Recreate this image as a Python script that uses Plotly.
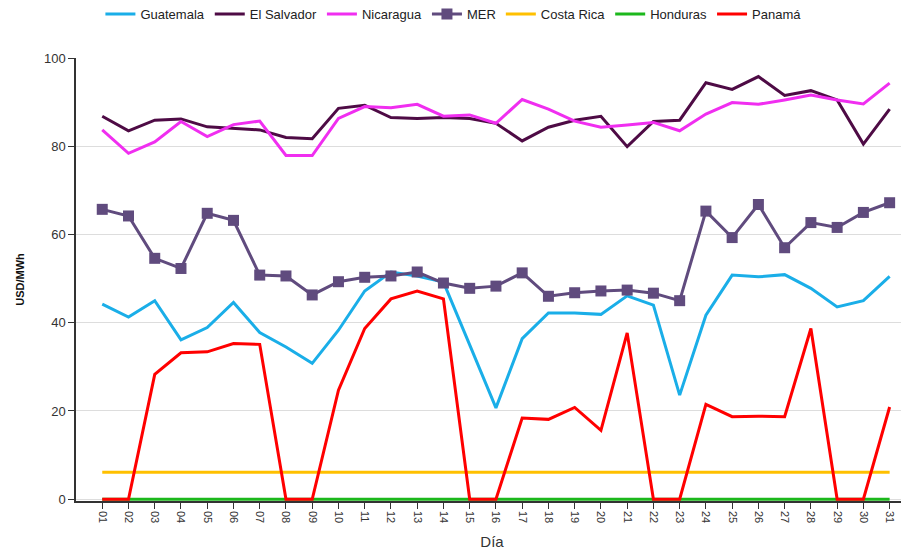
import plotly.graph_objects as go

dias = [f"{d:02d}" for d in range(1, 32)]

guatemala = [44.2, 41.3, 45.0, 36.1, 38.9, 44.6, 37.8, 34.5, 30.8, 38.3, 47.2, 51.5, 50.6, 49.2, 35.0, 20.7,
             36.4, 42.2, 42.2, 41.9, 46.1, 44.0, 23.6, 41.7, 50.8, 50.4, 50.9, 47.8, 43.6, 45.0, 50.5]
el_salvador = [86.8, 83.5, 85.9, 86.2, 84.4, 84.0, 83.7, 82.0, 81.7, 88.6, 89.3, 86.5, 86.3, 86.5, 86.3, 85.2,
               81.2, 84.3, 85.9, 86.8, 79.9, 85.6, 85.9, 94.4, 92.9, 95.8, 91.5, 92.6, 90.5, 80.5, 88.4]
nicaragua = [83.7, 78.4, 81.0, 85.6, 82.2, 84.9, 85.7, 77.9, 77.9, 86.3, 89.0, 88.7, 89.5, 86.8, 87.1, 85.2,
             90.6, 88.4, 85.7, 84.3, 84.8, 85.4, 83.5, 87.3, 89.9, 89.5, 90.5, 91.6, 90.5, 89.6, 94.3]
mer = [65.7, 64.2, 54.6, 52.3, 64.8, 63.2, 50.8, 50.6, 46.3, 49.3, 50.3, 50.6, 51.5, 49.0, 47.8, 48.3,
       51.3, 46.0, 46.8, 47.2, 47.4, 46.7, 45.0, 65.3, 59.3, 66.8, 57.0, 62.7, 61.6, 65.0, 67.2]
costa_rica = [6.1] * 31
honduras = [0.0] * 31
panama = [0, 0, 28.3, 33.2, 33.4, 35.3, 35.1, 0, 0, 24.7, 38.7, 45.4, 47.2, 45.4, 0, 0,
          18.4, 18.1, 20.8, 15.6, 37.7, 0, 0, 21.5, 18.7, 18.8, 18.7, 38.7, 0, 0, 20.9]

series = [
    ("Guatemala", guatemala, "#1aaee8"),
    ("El Salvador", el_salvador, "#4e0b45"),
    ("Nicaragua", nicaragua, "#f02ef0"),
    ("MER", mer, "#604b7e"),
    ("Costa Rica", costa_rica, "#ffc000"),
    ("Honduras", honduras, "#1cb81c"),
    ("Panamá", panama, "#ff0000"),
]

fig = go.Figure()
for name, vals, color in series:
    if name == "MER":
        fig.add_trace(go.Scatter(x=dias, y=vals, name=name, mode="lines+markers",
                                 line=dict(color=color, width=3),
                                 marker=dict(symbol="square", size=11, color=color),
                                 cliponaxis=False))
    else:
        fig.add_trace(go.Scatter(x=dias, y=vals, name=name, mode="lines",
                                 line=dict(color=color, width=3), cliponaxis=False))

fig.update_layout(
    width=909, height=553,
    margin=dict(l=68, r=9, t=50, b=60),
    paper_bgcolor="white", plot_bgcolor="white",
    font=dict(family="Liberation Sans, Arial, sans-serif", size=12, color="#333"),
    legend=dict(orientation="h", xref="container", x=0.49, xanchor="center",
                yref="container", y=0.989, yanchor="middle",
                font=dict(size=13, color="#222"), itemwidth=30, tracegroupgap=0),
    showlegend=True,
)
fig.update_xaxes(
    type="category", range=[-1, 30.7], automargin=False,
    tickangle=90, ticks="outside", ticklen=6, tickcolor="#333",
    showline=True, linecolor="#333", linewidth=1.5,
    showgrid=False, tickfont=dict(size=11, color="#333"),
    title=dict(text="Día", font=dict(size=15, color="#333"), standoff=14),
)
fig.update_yaxes(
    range=[-0.4, 100], tickvals=[0, 20, 40, 60, 80, 100], automargin=False,
    ticks="outside", ticklen=6, tickcolor="#333",
    showline=True, linecolor="#333", linewidth=1.5,
    showgrid=True, gridcolor="#dddddd", zeroline=False,
    tickfont=dict(size=13, color="#333"),
    title=dict(text="<b>USD/MWh</b>", font=dict(size=11, color="#111"), standoff=17),
)

fig.write_html("out.html")
